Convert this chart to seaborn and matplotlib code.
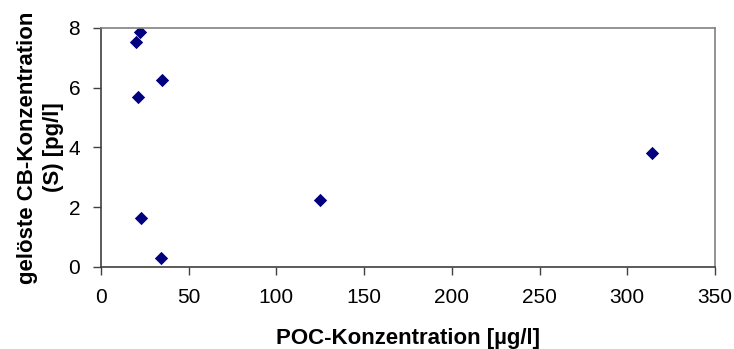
import pandas as pd
import seaborn as sns
from matplotlib import pyplot as plt

# values
poc = [22.2, 20.2, 34.6, 20.9, 22.8, 34.4, 124.9, 314.1]
cb_dissolved = [7.87, 7.54, 6.25, 5.68, 1.63, 0.31, 2.24, 3.80]
x_ticks = [0, 50, 100, 150, 200, 250, 300, 350]
y_ticks = [0, 2, 4, 6, 8]

df = pd.DataFrame({'POC': poc, 'S': cb_dissolved})

sns.set_style('white')
plt.rcParams['font.family'] = ['Liberation Sans', 'DejaVu Sans']
plt.rcParams['text.color'] = 'black'
plt.rcParams['axes.labelcolor'] = 'black'
plt.rcParams['xtick.color'] = 'black'
plt.rcParams['ytick.color'] = 'black'

f, ax = plt.subplots(figsize=(7.34, 3.49), dpi=100)
f.subplots_adjust(left=0.1376, right=0.974, top=0.92, bottom=0.235)

ax = sns.scatterplot(data=df, x='POC', y='S', marker='D', s=46,
                     color='#000080', edgecolor='#000080', linewidth=0, ax=ax)

ax.set_xlim(0, 350)
ax.set_ylim(0, 8)
ax.set_xticks(x_ticks)
ax.set_yticks(y_ticks)
ax.tick_params(axis='both', labelsize=15, length=6, width=1, color='#404040',
               direction='out', bottom=True, left=True, pad=9)

for side in ['top', 'right']:
    ax.spines[side].set_color('#808080')
    ax.spines[side].set_linewidth(1.2)
for side in ['left', 'bottom']:
    ax.spines[side].set_color('#404040')
    ax.spines[side].set_linewidth(1.2)

ax.set_xlabel('POC-Konzentration [µg/l]', fontsize=16, fontweight='bold', labelpad=15)
ax.set_ylabel('gelöste CB-Konzentration\n(S) [pg/l]', fontsize=16, fontweight='bold',
              labelpad=3, linespacing=1.3)

plt.savefig('out.png', dpi=100)
